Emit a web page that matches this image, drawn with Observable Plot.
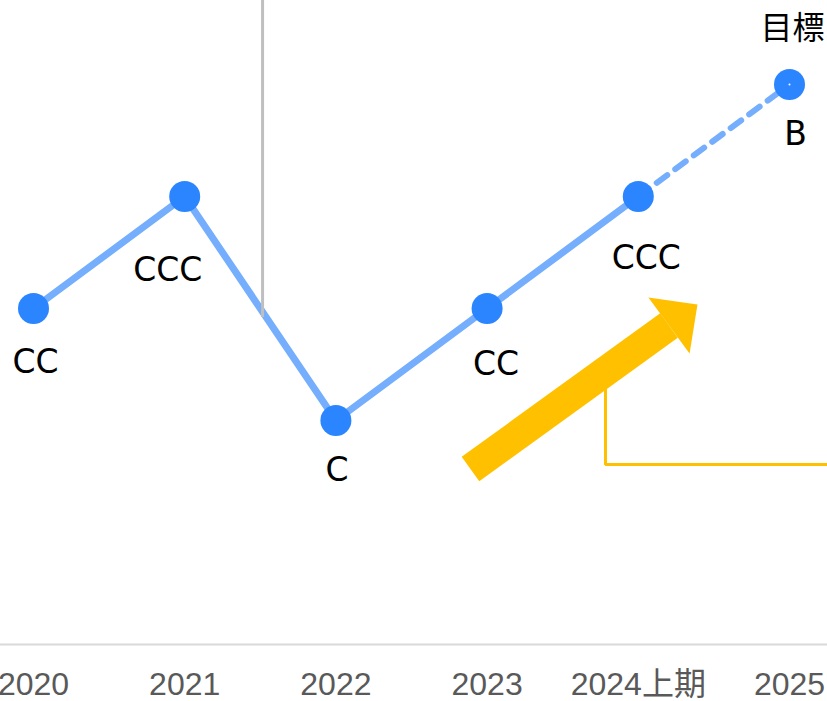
<!DOCTYPE html>
<html>
<head>
<meta charset="utf-8">
<script src="https://cdn.jsdelivr.net/npm/d3@7"></script>
<script src="https://cdn.jsdelivr.net/npm/@observablehq/plot@0.6"></script>
<style>
  html, body { margin: 0; padding: 0; background: #fff; }
  #chart svg { display: block; }
</style>
</head>
<body>
<div id="chart"></div>
<script>
// ---- data ----
const categories = ["2020", "2021", "2022", "2023", "2024上期", "2025"];
const ratings = ["CC", "CCC", "C", "CC", "CCC", "B"];
const ratingOrder = ["C", "CC", "CCC", "B"];   // ordinal rating levels (low -> high)
const targetLabel = "目標";
const actualCount = 5;                          // first five points are actual, last is target

// annotation geometry in data space (x = category index, y = rating level)
const dividerX = [1.515];
const dividerY = [0.92, 3.75];
const bracketX = [3.783, 3.783, 5.3];
const bracketY = [0.33, -0.393, -0.393];
const arrowTail = [2.890, -0.433];
const arrowHeadBase = [4.203, 0.848];

// ---- layout / styles (not data) ----
const labelOffsets = [[2, 54], [-17, 74], [1, 50], [9, 56], [8, 62], [6, 50]];
const lineColor = "#74aefc";
const dotColor = "#2a85ff";
const yellow = "#ffc000";

const rows = categories.map((c, i) => ({
  i, category: c, rating: ratings[i], level: ratingOrder.indexOf(ratings[i])
}));
const actual = rows.slice(0, actualCount);
const target = rows.slice(actualCount - 1);

const arrowHead = {
  draw(ctx) {
    ctx.moveTo(-34.7, 0);
    ctx.lineTo(34.7, 0);
    ctx.lineTo(0, -35.4);
    ctx.closePath();
  }
};

const labelMarks = rows.map((d, k) => Plot.text([d], {
  x: "i", y: "level", text: "rating",
  dx: labelOffsets[k][0], dy: labelOffsets[k][1],
  fontSize: 33, fill: "#000", fontFamily: "DejaVu Sans"
}));

const chart = Plot.plot({
  width: 827,
  height: 701,
  marginLeft: 0, marginRight: 0, marginTop: 0, marginBottom: 57,
  x: { type: "linear", domain: [0, 5], range: [33, 789], axis: null },
  y: { type: "linear", domain: [-2, 3.75], range: [644, 0], axis: null },
  style: { background: "#fff", fontFamily: "DejaVu Sans" },
  marks: [
    Plot.ruleY([-2], { stroke: "#d9d9d9", strokeWidth: 2 }),
    Plot.axisX({
      ticks: d3.range(categories.length),
      tickFormat: i => categories[i],
      tickSize: 0, tickPadding: 28,
      fontSize: 32, fill: "#595959",
      fontFamily: "Liberation Sans, Noto Sans CJK JP, sans-serif"
    }),
    // yellow bracket
    Plot.line(bracketX.map((x, k) => ({ x, y: bracketY[k] })), {
      x: "x", y: "y", stroke: yellow, strokeWidth: 3, strokeLinejoin: "miter"
    }),
    // yellow arrow shaft + head
    Plot.link([{ x1: arrowTail[0], y1: arrowTail[1], x2: arrowHeadBase[0], y2: arrowHeadBase[1] }], {
      x1: "x1", y1: "y1", x2: "x2", y2: "y2", stroke: yellow, strokeWidth: 30, strokeLinecap: "butt"
    }),
    Plot.dot([{ x: arrowHeadBase[0], y: arrowHeadBase[1] }], {
      x: "x", y: "y", symbol: arrowHead, fill: yellow, stroke: "none", rotate: 53.6, r: 10
    }),
    // rating line
    Plot.line(actual, { x: "i", y: "level", stroke: lineColor, strokeWidth: 7, strokeLinejoin: "round" }),
    Plot.line(target, { x: "i", y: "level", stroke: lineColor, strokeWidth: 6, strokeDasharray: "13,10", strokeLinecap: "round" }),
    // divider
    Plot.ruleX(dividerX, { y1: dividerY[0], y2: dividerY[1], stroke: "#bfbfbf", strokeWidth: 3 }),
    // points
    Plot.dot(rows, { x: "i", y: "level", r: 15.5, fill: dotColor, stroke: "none" }),
    Plot.dot(rows.slice(actualCount), { x: "i", y: "level", r: 1, fill: "#fff", stroke: "none" }),
    ...labelMarks,
    Plot.text(rows.slice(actualCount), {
      x: "i", y: "level", text: () => targetLabel, dx: 3, dy: -56,
      fontSize: 32, fill: "#000", fontFamily: "Noto Sans CJK JP"
    })
  ]
});
document.getElementById("chart").appendChild(chart);
</script>
</body>
</html>
